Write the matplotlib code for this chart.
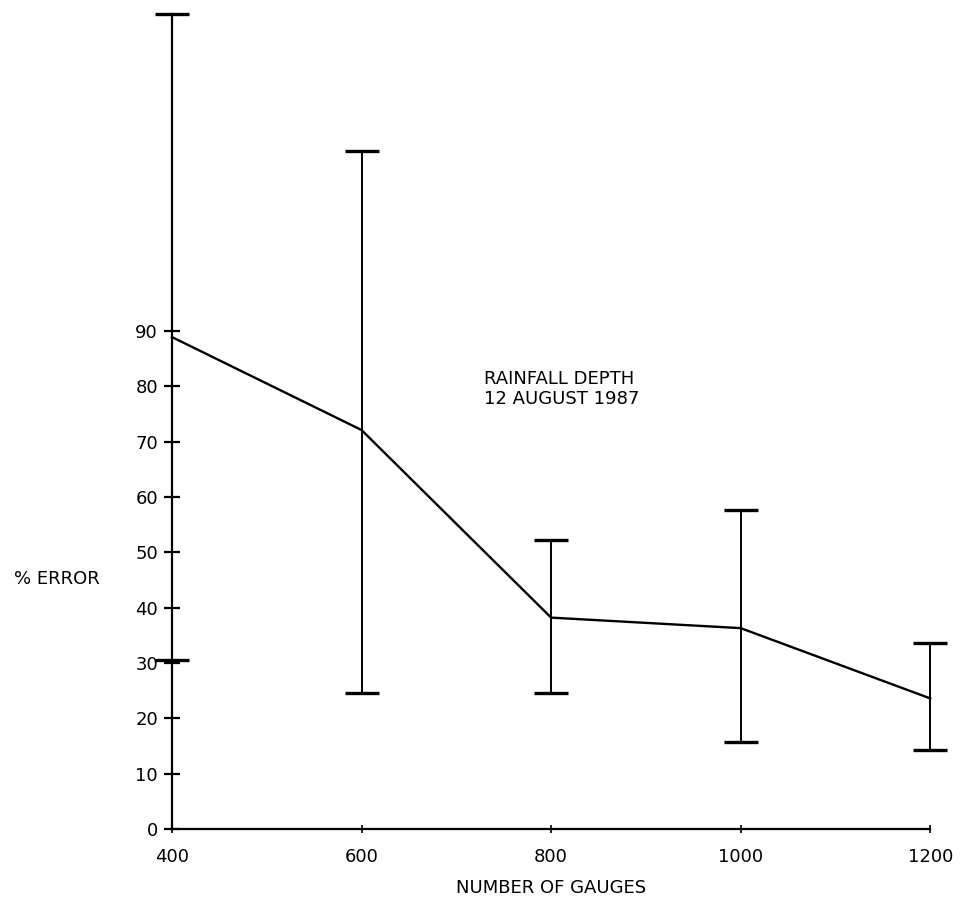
import matplotlib
matplotlib.use('Agg')
import matplotlib.pyplot as plt
import numpy as np

# values
gauges    = [400, 600, 800, 1000, 1200]
pct_error = [88.9, 72.1, 38.2, 36.3, 23.6]
err_low   = [30.5, 24.6, 24.6, 15.7, 14.2]
err_high  = [147.3, 122.5, 52.3, 57.6, 33.6]
yticks    = [0, 10, 20, 30, 40, 50, 60, 70, 80, 90]
xticks    = [400, 600, 800, 1000, 1200]

plt.rcParams['font.family'] = ['DejaVu Sans']

fig = plt.figure(figsize=(9.66, 9.10), dpi=100)
ax = fig.add_axes([0.178, 0.089, 0.785, 0.900])

y = np.array(pct_error)
yerr = [y - np.array(err_low), np.array(err_high) - y]

ax.errorbar(gauges, pct_error, yerr=yerr, color='black', lw=1.7,
            elinewidth=1.4, capsize=12, capthick=2.4, clip_on=False)

ax.set_xlim(400, 1200)
ax.set_ylim(0, 148)
ax.set_yticks(yticks)
ax.set_xticks(xticks)
ax.tick_params(axis='y', direction='inout', length=12, width=1.6, labelsize=13, pad=4)
ax.tick_params(axis='x', direction='inout', length=6, width=1.2, labelsize=13, pad=11)

for side in ['top', 'right']:
    ax.spines[side].set_visible(False)
ax.spines['left'].set_linewidth(1.6)
ax.spines['bottom'].set_linewidth(1.6)
ax.spines['left'].set_bounds(0, 147.3)

ax.text(729, 79.5, 'RAINFALL DEPTH\n12 AUGUST 1987', fontsize=13,
        ha='left', va='center', linespacing=1.1)

fig.text(0.014, 1 - 579 / 910, '% ERROR', fontsize=13, ha='left', va='center')
ax.set_xlabel('NUMBER OF GAUGES', fontsize=13, labelpad=9)

fig.savefig('out.png', dpi=100, facecolor='white')
